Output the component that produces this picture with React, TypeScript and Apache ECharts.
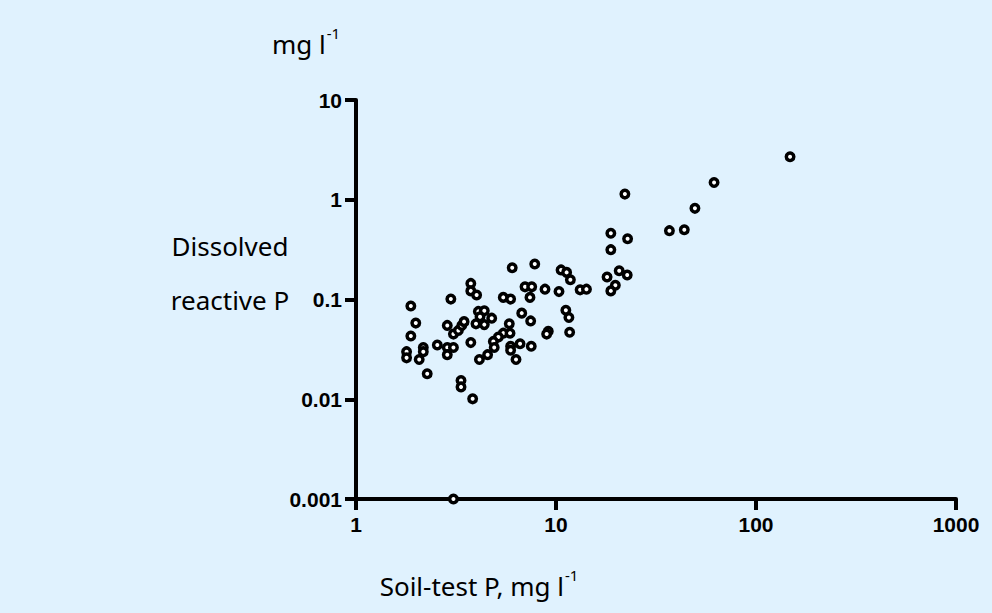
import React, { useEffect, useRef } from "react";
import * as echarts from "echarts";

const xTickLabels = ["1", "10", "100", "1000"];
const yTickLabels = ["0.001", "0.01", "0.1", "1", "10"];

// Soil-test P (mg l-1)
const soilP = [
  1.88, 1.99, 1.88, 1.79, 1.79, 2.07, 2.17, 2.17, 2.27, 2.55,
  2.86, 2.98, 2.86, 2.86, 3.07, 3.07, 3.25, 3.38, 3.47, 3.75,
  3.75, 4.01, 3.75, 3.35, 3.35, 3.83, 6.04, 7.83, 5.45, 5.93,
  7.0, 7.56, 7.41, 8.81, 10.35, 10.6, 11.3, 11.8, 13.2, 14.2,
  18.0, 20.7, 22.7, 19.8, 18.8, 18.8, 6.74, 7.47, 11.2, 11.6,
  11.7, 9.15, 8.98, 5.84, 4.09, 4.38, 4.17, 4.77, 4.38, 3.98,
  5.45, 5.89, 5.15, 4.86, 4.91, 4.55, 4.14, 5.93, 5.93, 6.61,
  6.31, 7.52, 148, 61.7, 49.5, 36.9, 43.8, 22.1, 18.8, 22.8,
  3.07,
];

// Dissolved reactive P (mg l-1)
const drp = [
  0.086, 0.058, 0.043, 0.030, 0.026, 0.025, 0.033, 0.030, 0.018, 0.035,
  0.055, 0.101, 0.033, 0.028, 0.033, 0.045, 0.049, 0.055, 0.060, 0.145,
  0.122, 0.111, 0.037, 0.0154, 0.0133, 0.0101, 0.208, 0.227, 0.105, 0.101,
  0.134, 0.134, 0.105, 0.127, 0.120, 0.198, 0.187, 0.158, 0.125, 0.127,
  0.168, 0.194, 0.176, 0.139, 0.122, 0.316, 0.073, 0.061, 0.078, 0.066,
  0.047, 0.048, 0.045, 0.057, 0.076, 0.077, 0.067, 0.065, 0.056, 0.057,
  0.046, 0.046, 0.042, 0.038, 0.033, 0.028, 0.025, 0.034, 0.031, 0.036,
  0.025, 0.034, 2.70, 1.49, 0.82, 0.49, 0.50, 1.14, 0.461, 0.407,
  0.001,
];

const labelFont = "Noto Sans";

export default function App() {
  const ref = useRef<HTMLDivElement>(null);

  useEffect(() => {
    if (!ref.current) return;
    const chart = echarts.init(ref.current, undefined, { renderer: "svg" });
    const points = soilP.map((x, i) => [x, drp[i]]);
    const tickFmt = (labels: string[], offset: number) => (v: number) => {
      const k = Math.round(Math.log10(v)) + offset;
      return labels[k] ?? "";
    };
    const richUnits = {
      a: { fontFamily: labelFont, fontSize: 26, fill: "#000", lineHeight: 34, verticalAlign: "bottom" },
      b: { fontFamily: labelFont, fontSize: 15, fill: "#000", lineHeight: 34, verticalAlign: "top", padding: [2, 0, 0, 1] },
    };
    chart.setOption({
      animation: false,
      backgroundColor: "#e0f2fe",
      grid: { left: 356, right: 36, top: 100, bottom: 114, containLabel: false },
      xAxis: {
        type: "log",
        logBase: 10,
        min: 1,
        max: 1000,
        splitLine: { show: false },
        axisLine: { show: true, onZero: false, lineStyle: { color: "#000", width: 4 } },
        axisTick: { show: true, length: 11, lineStyle: { color: "#000", width: 4 } },
        minorTick: { show: false },
        axisLabel: {
          formatter: tickFmt(xTickLabels, 0),
          color: "#000",
          fontFamily: "Liberation Sans",
          fontWeight: "bold",
          fontSize: 21,
          margin: 15,
        },
      },
      yAxis: {
        type: "log",
        logBase: 10,
        min: 0.001,
        max: 10,
        splitLine: { show: false },
        axisLine: { show: true, onZero: false, lineStyle: { color: "#000", width: 4 } },
        axisTick: { show: true, length: 11, lineStyle: { color: "#000", width: 4 } },
        axisLabel: {
          formatter: tickFmt(yTickLabels, 3),
          color: "#000",
          fontFamily: "Liberation Sans",
          fontWeight: "bold",
          fontSize: 21,
          margin: 14,
        },
      },
      series: [
        {
          type: "scatter",
          data: points,
          symbol: "circle",
          symbolSize: 7.5,
          clip: false,
          itemStyle: { color: "#ffffff", borderColor: "#000", borderWidth: 3.5, opacity: 1 },
          z: 5,
        },
      ],
      graphic: [
        {
          type: "text",
          x: 306,
          y: 40,
          style: {
            text: "{a|mg l}{b|-1}",
            align: "center",
            verticalAlign: "middle",
            fill: "#000",
            rich: richUnits,
          },
        },
        {
          type: "text",
          x: 230,
          y: 246,
          style: {
            text: "Dissolved",
            align: "center",
            verticalAlign: "middle",
            fontFamily: labelFont,
            fontSize: 26,
            fill: "#000",
          },
        },
        {
          type: "text",
          x: 230,
          y: 300,
          style: {
            text: "reactive P",
            align: "center",
            verticalAlign: "middle",
            fontFamily: labelFont,
            fontSize: 26,
            fill: "#000",
          },
        },
        {
          type: "text",
          x: 479,
          y: 582,
          style: {
            text: "{a|Soil-test P, mg l}{b|-1}",
            align: "center",
            verticalAlign: "middle",
            fill: "#000",
            rich: richUnits,
          },
        },
      ],
    });
    return () => chart.dispose();
  }, []);

  return (
    <div
      ref={ref}
      style={{ position: "fixed", left: 0, top: 0, width: 992, height: 613 }}
    />
  );
}
